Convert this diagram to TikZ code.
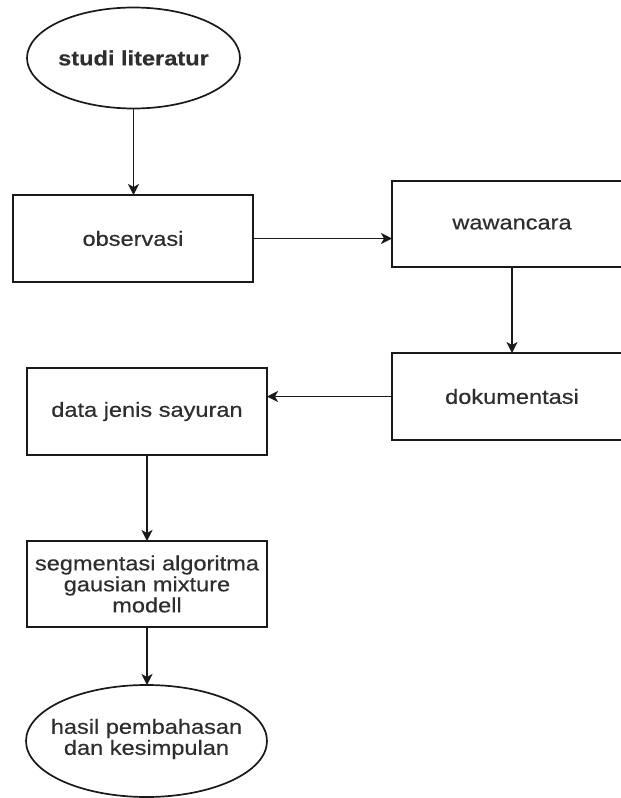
\documentclass[tikz,border=0pt]{standalone}
\usepackage{fontspec}
\setmainfont{Liberation Sans}[FakeStretch=1.15,FakeBold=0.4]
\usetikzlibrary{shapes.geometric,arrows.meta}
\definecolor{txt}{HTML}{2E2E2E}
\definecolor{ln}{HTML}{1A1A1A}
\tikzset{
  box/.style={draw=ln, line width=1.7pt, rectangle, minimum width=240pt, minimum height=87pt, inner sep=0pt, outer sep=0pt},
  oval/.style={draw=ln, line width=1.7pt, ellipse, inner sep=0pt, outer sep=0pt},
  lbl/.style={text=txt, font=\fontsize{20.5}{21}\selectfont, align=center, inner sep=0pt},
  flow/.style={draw=ln, line width=1.7pt, -{Stealth[length=11pt,width=11pt,inset=3pt]}}
}
\begin{document}
\begin{tikzpicture}[x=1pt,y=-1pt]
\useasboundingbox (0,0) rectangle (621,798);
\clip (0,0) rectangle (621,798);
\fill[white] (0,0) rectangle (621,798);
% nodes
\node[oval, minimum width=213pt, minimum height=101pt] (lit) at (133.5,58) {};
\node[lbl, font=\fontsize{20.5}{21}\selectfont\bfseries] (litt) at (lit.center) {studi literatur};
\node[box, minimum height=87pt] (obs) at (133,238.5) {};
\node[lbl] (obst) at (obs.center) {observasi};
\node[box, minimum height=86pt] (waw) at (512,224) {};
\node[lbl] (wawt) at (waw.center) {wawancara};
\node[box, minimum height=87pt] (dok) at (512,396.5) {};
\node[lbl] (dokt) at (dok.center) {dokumentasi};
\node[box, minimum height=87pt] (data) at (147,411.5) {};
\node[lbl] (datat) at (data.center) {data jenis sayuran};
\node[box, minimum height=86pt] (seg) at (147,584) {};
\node[lbl] (segt) at (seg.center) {segmentasi algoritma\\gausian mixture\\modell};
\node[oval, minimum width=241pt, minimum height=112pt] (has) at (146.5,741) {};
\node[lbl] (hast) at ([yshift=2pt]has.center) {hasil pembahasan\\dan kesimpulan};
% connectors
\draw[flow] (lit.south) -- (lit.south |- obs.north);
\draw[flow] (obs.east) -- (obs.east -| waw.west);
\draw[flow] (waw.south) -- (waw.south |- dok.north);
\draw[flow] (dok.west) -- (dok.west -| data.east);
\draw[flow] (data.south) -- (data.south |- seg.north);
\draw[flow] (seg.south) -- (seg.south |- has.north);
\end{tikzpicture}
\end{document}
